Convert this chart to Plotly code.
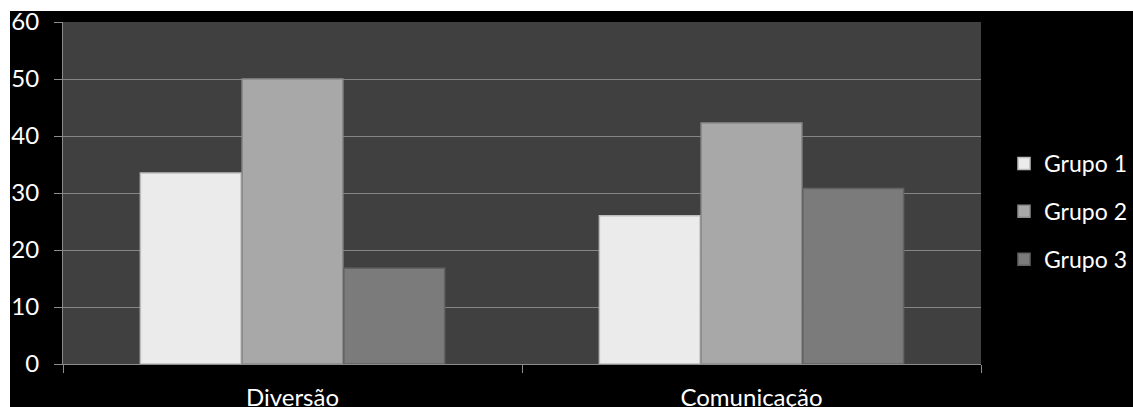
import plotly.graph_objects as go

categories = ["Diversão", "Comunicação"]
series_names = ["Grupo 1", "Grupo 2", "Grupo 3"]
grupo1 = [33.5, 26.0]
grupo2 = [50.0, 42.3]
grupo3 = [16.8, 30.8]
y_ticks = [0, 10, 20, 30, 40, 50, 60]

fill_colors = ["#ebebeb", "#a8a8a8", "#7b7b7b"]
line_colors = ["#bdbdbd", "#8a8a8a", "#636363"]

W, H = 1133, 407
ml, mr, mt, mb = 63, 152, 22, 43
pw, ph = W - ml - mr, H - mt - mb
BORDER_LEFT, BORDER_TOP = 10, 11  # white page border around the black chart

fig = go.Figure()
for name, vals, fc, lc in zip(series_names, [grupo1, grupo2, grupo3], fill_colors, line_colors):
    fig.add_trace(go.Bar(
        x=categories, y=vals, name=name, legendgroup=name,
        marker=dict(color=fc, line=dict(color=lc, width=1.5)),
    ))

font = "Lato, 'Open Sans', sans-serif"

fig.update_layout(
    width=W, height=H,
    margin=dict(l=ml, r=mr, t=mt, b=mb, pad=0, autoexpand=False),
    paper_bgcolor="black",
    plot_bgcolor="#404040",
    barmode="group",
    bargap=0.335,
    bargroupgap=0.01,
    font=dict(family=font, color="white", size=24),
    showlegend=True,
    legend=dict(
        x=(1004 - ml) / pw, xanchor="left",
        y=(H - mb - 142) / ph, yanchor="top",
        font=dict(family=font, size=23, color="white"),
        bgcolor="rgba(0,0,0,0)",
        traceorder="grouped",
        tracegroupgap=15,
        itemwidth=30,
    ),
    xaxis=dict(
        showgrid=False,
        showline=True, linecolor="#8c8c8c", linewidth=1,
        ticks="outside", tickson="boundaries", ticklen=8, tickcolor="#8c8c8c",
        tickfont=dict(family=font, size=24, color="white"),
        ticklabelstandoff=12,
        ticklabeloverflow="allow",
        automargin=False,
    ),
    yaxis=dict(
        range=[0, 60], tickvals=y_ticks,
        showgrid=True, gridcolor="#858585", gridwidth=1,
        showline=True, linecolor="#8c8c8c", linewidth=1,
        ticks="outside", ticklen=8, tickcolor="#8c8c8c",
        tickfont=dict(family=font, size=24, color="white"),
        ticklabelstandoff=10,
        ticklabeloverflow="allow",
        zeroline=False,
        automargin=False,
    ),
)

post = (
    "document.body.style.margin='0';"
    "document.body.style.overflow='hidden';"
    "function wb(l,t,w,h){var e=document.createElement('div');"
    "e.style.cssText='position:absolute;background:white;z-index:10;left:'+l+'px;top:'+t+'px;width:'+w+'px;height:'+h+'px;';"
    "document.body.appendChild(e);}"
    "wb(0,0,%d,%d);wb(0,0,%d,%d);" % (W, BORDER_TOP, BORDER_LEFT, H)
)

fig.write_html("out.html", config={"displayModeBar": False}, post_script=post)
